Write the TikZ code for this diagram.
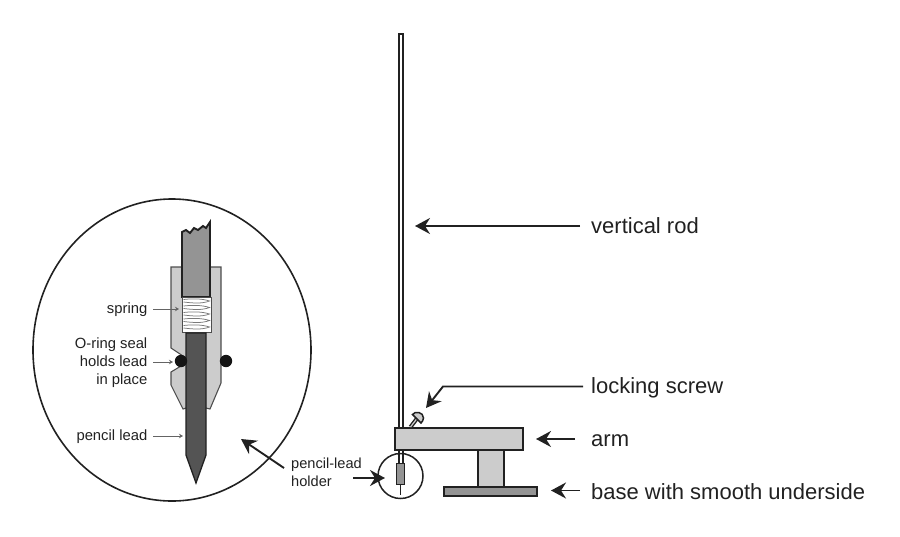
\documentclass[tikz,border=0pt]{standalone}
\usepackage{fontspec}
\setmainfont{Liberation Sans}
\usetikzlibrary{arrows.meta,shapes.geometric}
\definecolor{ink}{gray}{0.13}
\definecolor{pale}{gray}{0.80}
\definecolor{midg}{gray}{0.58}
\definecolor{leadc}{gray}{0.33}
\tikzset{
  part/.style={draw=ink,line width=1.7pt,line join=miter},
  thin part/.style={draw=ink,line width=2pt},
  bigarrow/.style={draw=ink,line width=1.9pt,-{Stealth[length=15pt,width=16pt,inset=5pt]}},
  smallarrow/.style={draw=ink!70,line width=0.8pt,-{Stealth[length=4pt,width=4.5pt]}},
  biglabel/.style={font=\fontsize{22}{26}\selectfont,text=ink,anchor=base west,inner sep=0pt},
  smalllabel/.style={font=\fontsize{14.8}{17.7}\selectfont,text=ink,align=right,anchor=east,inner sep=0pt},
  holderlabel/.style={font=\fontsize{14.6}{18}\selectfont,text=ink,align=left,anchor=west,inner sep=0pt},
}
\begin{document}
\begin{tikzpicture}[x=1pt,y=-1pt]
\useasboundingbox (0,0) rectangle (900,536);
% big circle
\node[draw=ink,line width=1.6pt,ellipse,minimum width=278pt,minimum height=302pt,inner sep=0pt] (detail) at (172,350) {};
% holder
\path[part,draw=ink!80,line width=1.1pt,fill=pale] (171,267) -- (221,267) -- (221,383) -- (210,409) -- (206,408) -- (186,408) -- (183,409) -- (171,385) -- (171,372) -- (186,363) -- (186,358) -- (171,348) -- cycle;
% upper rod
\path[part,line width=1.9pt,fill=midg] (182,297) -- (182,232) -- (186,230) -- (190,233) -- (194,228) -- (198,230) -- (203,226) -- (206,228) -- (210,222) -- (210,297) -- cycle;
% spring
\path[part,draw=ink!80,line width=0.9pt,fill=white] (182,297) rectangle (211,332);
\foreach \y in {299.5,306,312.5,319,325.5}{
  \draw[ink!60,line width=0.75pt] (183.5,\y) .. controls (192,\y-1) and (202,\y-1) .. (209.5,\y+1.5)
    .. controls (202,\y+4.5) and (192,\y+3.5) .. (183.5,\y+2.5);
}
% lower lead
\path[part,line width=1.3pt,fill=leadc] (186,333) -- (206,333) -- (206,455) -- (196,483) -- (186,455) -- cycle;
% o-rings
\fill[black!92] (181,361) circle (6.2pt) (226,361) circle (6.2pt);
% small labels
\node[smalllabel] (spr) at (147.5,309.5) {spring};
\node[smalllabel] (ors) at (147.5,362.5) {O-ring seal\\holds lead\\in place};
\node[smalllabel] (pl) at (147.5,436.5) {pencil lead};
\coordinate (sprt) at (179,309);
\coordinate (ort) at (173,362);
\coordinate (plt) at (183,436);
\draw[smallarrow] (153,309) -- (sprt);
\draw[smallarrow] (153,362) -- (ort);
\draw[smallarrow] (153,436) -- (plt);
% stand
\node[part,fill=midg,minimum width=93pt,minimum height=9pt,inner sep=0pt] (base) at (490.5,491.5) {};
\node[part,fill=pale,minimum width=26pt,minimum height=37pt,inner sep=0pt] (stem) at (491,468.5) {};
\path[thin part,fill=white] (398.9,33.5) rectangle (402.6,430);
\path[thin part,fill=white] (398.9,450) rectangle (402.6,464);
\node[part,fill=pale,minimum width=128pt,minimum height=22pt,inner sep=0pt] (arm) at (459,439) {};
% screw
\draw[ink,line width=4pt] (410.5,427) -- (417,418.5);
\draw[pale,line width=1.2pt] (410.5,427) -- (417,418.5);
\path[draw=ink,line width=1.5pt,fill=pale] (412.5,414.5) .. controls (415,410.5) and (423.5,412) .. (423.5,418) .. controls (423.5,420) and (422,422) .. (421,423) -- cycle;
% small holder
\node[draw=ink,line width=1.5pt,circle,minimum size=45pt,inner sep=0pt] (mini) at (400.5,476) {};
\path[part,line width=1.5pt,fill=midg] (396.3,463.5) rectangle (404.3,484.5);
\draw[ink,line width=1.2pt] (400.3,484.5) -- (400.3,495);
% big labels
\node[biglabel] (vr) at (591,233) {vertical rod};
\node[biglabel] (ls) at (591,393) {locking screw};
\node[biglabel] (al) at (591,446) {arm};
\node[biglabel] (bs) at (591,499) {base with smooth underside};
\node[holderlabel] (plh) at (291,472) {pencil-lead\\holder};
\coordinate (rodt) at (415,226);
\coordinate (rods) at (580,226);
\coordinate (scrt) at (426,408);
\coordinate (scrs) at (583,386.5);
\coordinate (bend) at (443,386.5);
\coordinate (armt) at (536,439);
\coordinate (arms) at (575,439);
\coordinate (baset) at (551,490.5);
\coordinate (bases) at (580,490.5);
\coordinate (hst) at (385,478);
\coordinate (hss) at (353,478);
\coordinate (dett) at (241,439);
\coordinate (dets) at (284,468);
\draw[bigarrow] (rods) -- (rodt);
\draw[bigarrow] (scrs) -- (bend) -- (scrt);
\draw[bigarrow] (arms) -- (armt);
\draw[bigarrow] (bases) -- (baset);
\draw[bigarrow] (hss) -- (hst);
\draw[bigarrow] (dets) -- (dett);
\end{tikzpicture}
\end{document}
